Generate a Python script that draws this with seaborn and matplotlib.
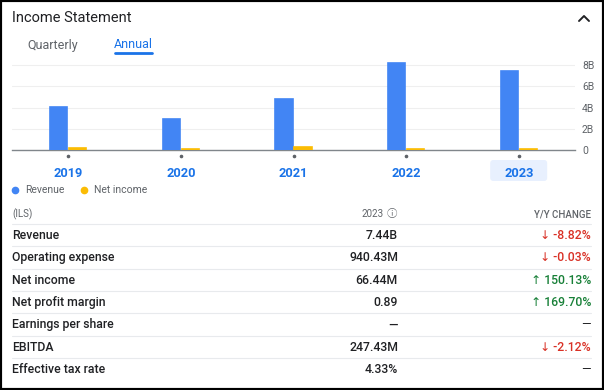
import numpy as np
import pandas as pd
import matplotlib
matplotlib.use('Agg')
import matplotlib.pyplot as plt
import seaborn as sns
from matplotlib.patches import FancyBboxPatch, Rectangle
from matplotlib.lines import Line2D
from matplotlib.transforms import IdentityTransform

# Annual figures (billions of ILS)
years = ['2019', '2020', '2021', '2022', '2023']
revenue = [4.1, 2.95, 4.77, 8.2, 7.44]
net_income = [0.2, 0.1, 0.25, 0.05, 0.066]

# Table for the selected year
row_labels = ['Revenue', 'Operating expense', 'Net income', 'Net profit margin',
              'Earnings per share', 'EBITDA', 'Effective tax rate']
row_values = ['7.44B', '940.43M', '66.44M', '0.89', '—', '247.43M', '4.33%']
row_changes = ['-8.82%', '-0.03%', '150.13%', '169.70%', None, '-2.12%', None]

BLUE = '#4285f4'
YELLOW = '#fbbc04'
LINK = '#1a73e8'
DARK = '#202124'
GREY = '#5f6368'
RED = '#d93025'
GREEN = '#188038'

sns.set_theme(style='white')
plt.rcParams['font.family'] = ['Roboto', 'DejaVu Sans']

W, H = 604, 390
fig = plt.figure(figsize=(W / 100, H / 100), dpi=100)


def fx(x):
    return x / W


def fy(y):
    return 1 - y / H


# ---- bar chart ----
ax = fig.add_axes([fx(12), fy(150), (575 - 12) / W, 90 / H])
ax.patch.set_alpha(0)

df = pd.DataFrame({
    'Year': years * 2,
    'Series': ['Revenue'] * len(years) + ['Net income'] * len(years),
    'Value': revenue + net_income,
})
sns.barplot(data=df, x='Year', y='Value', hue='Series', palette=[BLUE, YELLOW],
            width=0.34, gap=0.1, saturation=1, legend=False, ax=ax, zorder=3)

# give the tiny net income bars a visible minimum thickness
for bar in ax.patches:
    bar.set_edgecolor(bar.get_facecolor())
    bar.set_linewidth(1.2)

ax.set_xlim(-0.5, len(years) - 0.5)
ax.set_ylim(0, 8.5)
ax.set_yticks([0, 2, 4, 6, 8])
ax.set_yticklabels(['0' if v == 0 else f'{v}B' for v in [0, 2, 4, 6, 8]])
ax.yaxis.tick_right()
ax.tick_params(axis='y', length=0, pad=5, labelsize=7.5, labelcolor=GREY)
ax.tick_params(axis='x', length=0, pad=12, labelsize=9.2, labelcolor=LINK)
for lbl in ax.get_xticklabels():
    lbl.set_fontweight('bold')
ax.set_xlabel('')
ax.set_ylabel('')
ax.grid(axis='y', color='#efefef', linewidth=0.8)
ax.grid(axis='x', visible=False)
ax.set_axisbelow(True)
for side in ['top', 'left', 'right']:
    ax.spines[side].set_visible(False)
ax.spines['bottom'].set_color('#80868b')
ax.spines['bottom'].set_linewidth(1)
ax.spines['bottom'].set_zorder(2)

# small dots under each year
ax.plot(np.arange(len(years)), np.full(len(years), -0.065), 'o', ms=1.6,
        color=GREY, transform=ax.get_xaxis_transform(), clip_on=False)

# highlight of the selected year
fig.canvas.draw()
cx, _ = ax.transData.transform((len(years) - 1, 0))
fig.add_artist(FancyBboxPatch((cx - 28.5, H - 181), 57, 21,
                              boxstyle='round,pad=0,rounding_size=3',
                              facecolor='#e8f0fe', edgecolor='none',
                              transform=IdentityTransform(), zorder=-1))

# ---- header ----
fig.text(fx(12), fy(18), 'Income Statement', fontsize=10.5, color=DARK, va='center')
fig.add_artist(Line2D([fx(579), fx(584), fx(589)], [fy(21), fy(16), fy(21)],
                      color=DARK, lw=1.4, transform=fig.transFigure))
fig.text(fx(27), fy(45), 'Quarterly', fontsize=9, color=GREY, va='center')
fig.text(fx(114), fy(45), 'Annual', fontsize=9, color=LINK, va='center')
fig.add_artist(Line2D([fx(115), fx(152)], [fy(53), fy(53)], color=LINK, lw=2,
                      solid_capstyle='round', transform=fig.transFigure))

# ---- legend ----
for x, name, col in [(15, 'Revenue', BLUE), (84, 'Net income', YELLOW)]:
    fig.add_artist(Line2D([fx(x)], [fy(190)], marker='o', ms=4.5, color=col,
                          transform=fig.transFigure))
    fig.text(fx(x + 10), fy(190), name, fontsize=7.5, color=GREY, va='center')

# ---- table ----
fig.text(fx(12), fy(214), '(ILS)', fontsize=7, color=GREY, va='center')
fig.text(fx(384), fy(214), years[-1], fontsize=7, color=GREY, va='center', ha='right')
fig.text(fx(392), fy(214), 'ⓘ', fontsize=7.5, color=GREY, va='center', ha='center',
         family=['Noto Sans CJK JP', 'Noto Sans CJK SC', 'DejaVu Sans'])
fig.text(fx(591), fy(214), 'Y/Y CHANGE', fontsize=7, color=GREY, va='center', ha='right',
         fontweight='medium')

step = 22.33
for i, (label, val, chg) in enumerate(zip(row_labels, row_values, row_changes)):
    ysep = 224 + i * step
    fig.add_artist(Line2D([fx(12), fx(591)], [fy(ysep), fy(ysep)], color='#e8eaed',
                          lw=0.8, transform=fig.transFigure))
    y = 235.5 + i * step
    fig.text(fx(12), fy(y), label, fontsize=8.8, color=DARK, va='center',
             fontweight='medium')
    fig.text(fx(398), fy(y), val, fontsize=8.8, color=DARK, va='center', ha='right',
             fontweight='medium')
    if chg is None:
        fig.text(fx(591), fy(y), '—', fontsize=8.8, color=DARK, va='center', ha='right')
    else:
        down = chg.startswith('-')
        fig.text(fx(591), fy(y), ('↓ ' if down else '↑ ') + chg, fontsize=8.8,
                 color=RED if down else GREEN, va='center', ha='right',
                 fontweight='medium')

# outer frame
fig.add_artist(Rectangle((0, 0), 1, 1, transform=fig.transFigure, fill=False,
                         edgecolor='black', lw=3))

fig.savefig('out.png', dpi=100)
